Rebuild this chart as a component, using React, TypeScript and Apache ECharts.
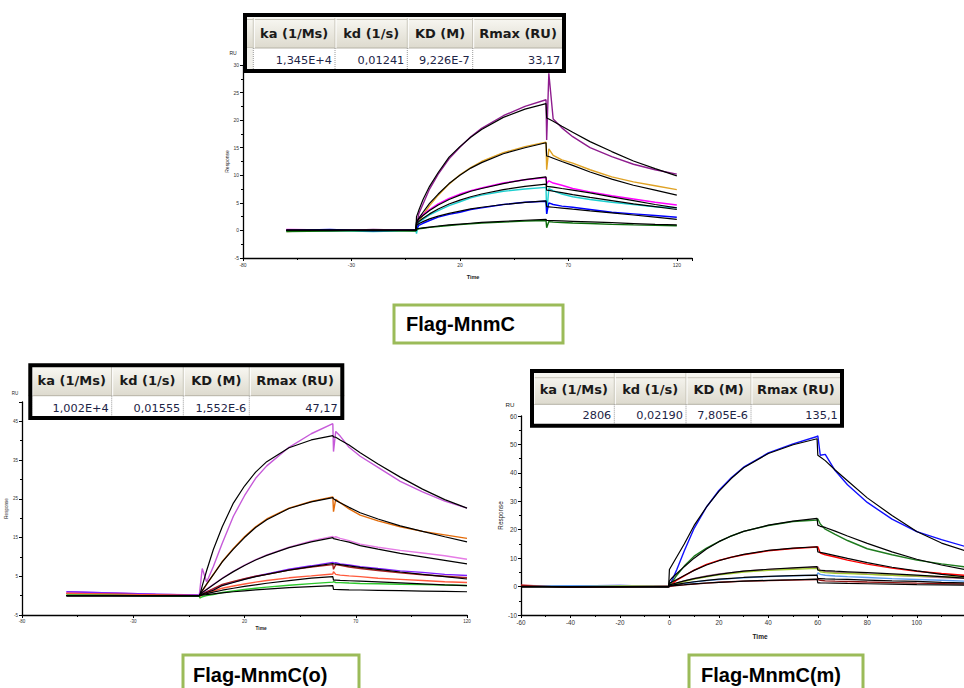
import React, { useEffect, useRef } from "react";
import * as echarts from "echarts";

// shared time grid (s)
const TIME = [-60, -40, -20, -0.3, 0, 1, 3, 6, 10, 15, 20, 25, 30, 40, 50, 59.7, 60, 61, 63, 67, 72, 80, 90, 100, 110, 120];

// ---------- Panel 1 : Flag-MnmC ----------
const P1_DATA_PURPLE = [0.1, -0.1, 0.2, 0.0, 0.5, 3.0, 4.8, 7.5, 10.2, 13.0, 15.1, 17.0, 18.5, 20.8, 22.5, 23.7, 16.4, 28.5, 20.2, 18.6, 17.0, 15.0, 13.4, 12.0, 11.0, 10.2];
const P1_FIT_PURPLE = [0, 0, 0, 0, 2.5, 3.6, 5.6, 8.0, 10.5, 13.3, 15.2, 16.9, 18.3, 20.5, 22.0, 23.0, 20.4, 20.2, 19.8, 18.9, 17.8, 16.1, 14.3, 12.6, 11.2, 9.9];
const P1_DATA_ORANGE = [-0.2, 0.1, -0.1, 0.0, 0.3, 1.5, 2.8, 4.5, 6.4, 8.4, 10.1, 11.4, 12.5, 14.1, 15.2, 16.0, 11.0, 14.8, 13.6, 12.8, 12.2, 11.0, 9.7, 8.8, 8.1, 7.4];
const P1_FIT_ORANGE = [0, 0, 0, 0, 1.5, 2.2, 3.3, 4.9, 6.6, 8.5, 10.0, 11.3, 12.3, 13.9, 15.0, 15.9, 13.5, 13.4, 13.1, 12.5, 11.8, 10.6, 9.3, 8.2, 7.3, 6.4];
const P1_DATA_MAGENTA = [0.2, 0.1, 0.0, 0.1, 0.5, 2.2, 2.9, 3.8, 4.8, 5.8, 6.6, 7.2, 7.7, 8.6, 9.2, 9.6, 8.5, 9.0, 8.6, 8.2, 7.6, 7.0, 6.3, 5.7, 5.1, 4.6];
const P1_FIT_MAGENTA = [0, 0, 0, 0, 1.5, 2.0, 2.7, 3.6, 4.6, 5.6, 6.4, 7.1, 7.6, 8.5, 9.2, 9.7, 8.0, 7.95, 7.85, 7.6, 7.3, 6.8, 6.1, 5.4, 4.7, 4.1];
const P1_DATA_CYAN = [-0.1, 0.0, -0.2, 0.0, -0.6, 1.5, 2.0, 2.8, 3.6, 4.5, 5.2, 5.9, 6.4, 7.1, 7.5, 7.8, 3.0, 7.6, 7.2, 6.6, 6.1, 5.6, 5.1, 4.7, 4.3, 4.1];
const P1_FIT_CYAN = [0, 0, 0, 0, 1.2, 1.6, 2.2, 3.0, 3.9, 4.8, 5.5, 6.1, 6.6, 7.4, 8.0, 8.4, 7.3, 7.25, 7.1, 6.85, 6.5, 6.0, 5.4, 4.8, 4.3, 3.8];
const P1_DATA_BLUE = [0.0, 0.2, -0.1, 0.1, 0.2, 0.9, 1.3, 1.8, 2.4, 2.9, 3.3, 3.8, 4.1, 4.7, 5.1, 5.3, 3.0, 5.0, 4.7, 4.4, 4.2, 3.8, 3.3, 3.0, 2.7, 2.4];
const P1_FIT_BLUE = [0, 0, 0, 0, 0.9, 1.2, 1.6, 2.1, 2.6, 3.1, 3.5, 3.9, 4.2, 4.7, 5.1, 5.35, 4.3, 4.27, 4.2, 4.05, 3.85, 3.55, 3.2, 2.8, 2.4, 2.0];
const P1_DATA_GREEN = [-0.2, -0.1, 0.0, -0.1, 0.1, 0.3, 0.4, 0.55, 0.7, 0.9, 1.05, 1.2, 1.35, 1.5, 1.7, 1.8, 0.5, 1.6, 1.5, 1.45, 1.35, 1.25, 1.1, 1.0, 0.95, 0.85];
const P1_FIT_GREEN = [0, 0, 0, 0, 0.3, 0.35, 0.45, 0.6, 0.8, 1.0, 1.15, 1.3, 1.45, 1.65, 1.85, 2.0, 1.8, 1.8, 1.78, 1.72, 1.65, 1.55, 1.4, 1.25, 1.1, 1.0];

// ---------- Panel 2 : Flag-MnmC(o) ----------
const P2_DATA_ORCHID = [1.0, 0.7, 0.4, 0.2, 0.2, 7.0, 3.5, 7.5, 13.5, 20.5, 25.8, 30.3, 33.5, 38.3, 41.8, 44.4, 37.2, 42.4, 41.2, 38.3, 36.0, 33.1, 29.5, 26.8, 24.4, 22.6];
const P2_FIT_ORCHID = [0, 0, 0, 0, 0.3, 2.5, 6.5, 11.9, 17.8, 23.9, 28.3, 31.9, 34.6, 38.2, 40.2, 41.3, 41.0, 40.9, 40.2, 38.9, 36.9, 34.0, 30.6, 27.5, 24.8, 22.6];
const P2_DATA_ORANGE = [0.6, 0.5, 0.2, 0.0, -0.6, 1.2, 2.9, 5.5, 8.8, 12.2, 15.2, 17.8, 19.8, 22.6, 24.3, 25.5, 21.7, 24.9, 24.0, 22.4, 20.8, 19.3, 17.8, 16.6, 15.7, 14.8];
const P2_FIT_ORANGE = [0, 0, 0, 0, 0.3, 1.3, 3.0, 5.4, 8.7, 12.0, 15.0, 17.6, 19.6, 22.5, 24.2, 25.3, 25.0, 24.6, 24.0, 22.8, 21.4, 19.8, 18.0, 16.6, 15.2, 13.9];
const P2_DATA_VIOLET = [0.9, 0.6, 0.3, 0.1, 0.0, 0.8, 1.7, 2.9, 4.5, 6.3, 7.9, 9.3, 10.5, 12.5, 14.1, 15.3, 15.0, 15.2, 14.8, 14.2, 13.3, 12.5, 11.7, 11.0, 10.3, 9.4];
const P2_FIT_VIOLET = [0, 0, 0, 0, 0.3, 0.8, 1.6, 2.8, 4.4, 6.2, 7.8, 9.2, 10.4, 12.4, 13.9, 15.0, 14.7, 14.6, 14.3, 13.8, 12.9, 12.0, 10.9, 10.0, 9.1, 8.2];
const P2_DATA_PURPLE = [1.0, 0.7, 0.4, 0.1, 0.0, 0.5, 1.0, 1.7, 2.7, 3.5, 4.3, 5.0, 5.6, 6.8, 7.7, 8.6, 8.4, 8.5, 8.2, 7.9, 7.5, 7.0, 6.4, 6.0, 5.5, 5.2];
const P2_DATA_DARKRED = [0.5, 0.4, 0.2, 0.0, 0.0, 0.4, 1.0, 1.8, 2.9, 3.7, 4.4, 5.0, 5.5, 6.6, 7.4, 8.0, 6.8, 8.0, 7.8, 7.4, 7.0, 6.5, 5.9, 5.4, 5.0, 4.6];
const P2_FIT_PURPLE = [0, 0, 0, 0, 0.2, 0.4, 0.8, 1.4, 2.6, 3.4, 4.2, 4.9, 5.5, 6.6, 7.5, 8.3, 8.2, 8.15, 8.0, 7.7, 7.3, 6.8, 6.1, 5.5, 4.9, 4.3];
const P2_DATA_TOMATO = [0.6, 0.4, 0.2, 0.0, -0.2, 0.3, 0.7, 1.2, 1.9, 2.5, 3.0, 3.5, 3.9, 4.6, 5.1, 5.6, 6.2, 5.5, 5.3, 5.1, 4.9, 4.5, 4.2, 3.9, 3.6, 3.4];
const P2_FIT_TOMATO = [0, 0, 0, 0, 0.1, 0.25, 0.5, 0.9, 1.4, 1.9, 2.4, 2.8, 3.2, 3.9, 4.5, 4.9, 4.0, 3.98, 3.93, 3.85, 3.75, 3.55, 3.3, 3.05, 2.8, 2.6];
const P2_DATA_GREEN = [0.2, 0.1, -0.1, -0.2, -0.6, -0.3, 0.0, 0.3, 0.8, 1.2, 1.6, 1.9, 2.2, 2.7, 3.1, 3.5, 3.6, 3.4, 3.35, 3.25, 3.15, 3.05, 2.95, 2.85, 2.75, 2.6];
const P2_FIT_GREEN = [0, 0, 0, 0, 0.0, 0.1, 0.25, 0.45, 0.7, 1.0, 1.25, 1.5, 1.7, 2.05, 2.35, 2.6, 1.6, 1.59, 1.56, 1.5, 1.45, 1.38, 1.28, 1.18, 1.09, 1.0];

// ---------- Panel 3 : Flag-MnmC(m) ----------
const P3_DATA_BLUE = [0.3, 0.2, 0.4, 0.0, 0.0, 2.0, 6.0, 12.5, 20.5, 28.0, 33.8, 38.3, 42.0, 47.0, 50.2, 52.8, 53.0, 46.2, 46.5, 40.8, 35.8, 29.6, 23.7, 19.3, 16.5, 14.0];
const P3_FIT_BLUE = [0, 0, 0, 0, 6.0, 7.5, 10.5, 15.0, 21.5, 28.0, 33.5, 38.0, 41.8, 46.8, 49.9, 52.0, 46.2, 45.6, 44.3, 41.0, 37.2, 31.2, 25.0, 19.4, 15.3, 12.5];
const P3_DATA_GREEN = [0.2, 0.0, 0.3, 0.0, 0.2, 1.5, 4.0, 7.2, 10.7, 13.5, 15.8, 17.8, 19.4, 21.5, 22.9, 23.4, 23.8, 22.0, 20.2, 18.4, 16.2, 13.3, 11.2, 9.3, 8.0, 6.9];
const P3_FIT_GREEN = [0, 0, 0, 0, 2.0, 3.0, 4.6, 7.0, 10.0, 13.2, 15.8, 17.8, 19.4, 21.6, 23.0, 24.0, 21.6, 21.2, 20.8, 19.5, 17.8, 15.2, 12.2, 9.6, 7.6, 5.9];
const P3_DATA_RED = [0.5, -0.2, 0.3, 0.0, 0.1, 0.8, 2.3, 3.8, 5.8, 7.8, 9.2, 10.3, 11.2, 12.6, 13.4, 13.9, 14.0, 11.8, 11.2, 10.4, 9.3, 7.9, 6.5, 5.4, 4.6, 3.9];
const P3_FIT_RED = [0, 0, 0, 0, 1.2, 1.6, 2.5, 3.9, 5.7, 7.6, 9.1, 10.3, 11.3, 12.7, 13.5, 14.0, 12.2, 12.0, 11.7, 10.9, 9.9, 8.4, 6.8, 5.5, 4.3, 3.4];
const P3_DATA_YELLOWGREEN = [0.2, 0.0, 0.3, 0.0, 0.0, 0.4, 1.0, 1.8, 2.6, 3.4, 4.1, 4.6, 5.1, 5.7, 6.1, 6.4, 6.3, 5.2, 4.9, 4.7, 4.6, 4.3, 4.0, 3.7, 3.5, 3.3];
const P3_DATA_MAUVE = [0.4, 0.1, 0.2, 0.0, 0.0, 0.5, 1.2, 2.0, 2.9, 3.7, 4.4, 4.9, 5.4, 6.0, 6.4, 6.8, 6.9, 5.6, 5.3, 5.0, 4.8, 4.4, 4.0, 3.6, 3.2, 2.9];
const P3_FIT_YELLOWGREEN = [0, 0, 0, 0, 0.6, 0.8, 1.3, 2.0, 2.8, 3.6, 4.3, 4.9, 5.4, 6.1, 6.6, 7.0, 5.8, 5.75, 5.6, 5.4, 5.2, 4.9, 4.5, 4.0, 3.5, 2.9];
const P3_DATA_LIGHTBLUE = [0.1, 0.3, 0.0, 0.0, 0.0, 0.3, 0.6, 1.0, 1.6, 2.1, 2.5, 2.8, 3.1, 3.5, 3.8, 4.0, 4.8, 4.3, 4.0, 3.7, 3.5, 3.2, 2.8, 2.5, 2.2, 1.9];
const P3_FIT_LIGHTBLUE = [0, 0, 0, 0, 0.4, 0.5, 0.8, 1.2, 1.7, 2.2, 2.6, 2.9, 3.2, 3.6, 3.85, 4.0, 2.8, 2.77, 2.7, 2.6, 2.5, 2.3, 2.0, 1.8, 1.5, 1.3];
const P3_DATA_DARKRED = [0.4, -0.3, -0.2, 0.0, 0.0, 0.2, 0.4, 0.6, 0.9, 1.2, 1.5, 1.7, 1.9, 2.1, 2.3, 2.5, 2.5, 2.2, 2.0, 1.9, 1.8, 1.6, 1.4, 1.2, 1.05, 0.9];
const P3_FIT_DARKRED = [0, 0, 0, 0, 0.2, 0.3, 0.45, 0.65, 0.95, 1.25, 1.5, 1.7, 1.9, 2.2, 2.4, 2.6, 1.3, 1.28, 1.25, 1.2, 1.1, 1.0, 0.85, 0.7, 0.6, 0.5];

// ---------- tables & titles ----------
const TABLE_HEADERS = ["ka (1/Ms)", "kd (1/s)", "KD (M)", "Rmax (RU)"];
const P1_TABLE_VALUES = ["1,345E+4", "0,01241", "9,226E-7", "33,17"];
const P2_TABLE_VALUES = ["1,002E+4", "0,01555", "1,552E-6", "47,17"];
const P3_TABLE_VALUES = ["2806", "0,02190", "7,805E-6", "135,1"];
const PANEL_TITLES = ["Flag-MnmC", "Flag-MnmC(o)", "Flag-MnmC(m)"];
const X_NAME = "Time";
const Y_NAME = "Response";
const Y_UNIT = "RU";

const PANELS = [
  {
    data: [
      [P1_DATA_PURPLE, "#8E1C8E"],
      [P1_DATA_ORANGE, "#DFA224"],
      [P1_DATA_MAGENTA, "#FF00FF"],
      [P1_DATA_CYAN, "#1CCFCF"],
      [P1_DATA_BLUE, "#0000FF"],
      [P1_DATA_GREEN, "#0B6E0B"],
    ],
    fits: [P1_FIT_PURPLE, P1_FIT_ORANGE, P1_FIT_MAGENTA, P1_FIT_CYAN, P1_FIT_BLUE, P1_FIT_GREEN],
  },
  {
    data: [
      [P2_DATA_ORCHID, "#C65AD9"],
      [P2_DATA_ORANGE, "#E36C0A"],
      [P2_DATA_VIOLET, "#E67CE6"],
      [P2_DATA_PURPLE, "#7F1FFF"],
      [P2_DATA_DARKRED, "#A52020"],
      [P2_DATA_TOMATO, "#FF5A3C"],
      [P2_DATA_GREEN, "#2DC82D"],
    ],
    fits: [P2_FIT_ORCHID, P2_FIT_ORANGE, P2_FIT_VIOLET, P2_FIT_PURPLE, P2_FIT_TOMATO, P2_FIT_GREEN],
  },
  {
    data: [
      [P3_DATA_BLUE, "#1010FF"],
      [P3_DATA_GREEN, "#1E7B1E"],
      [P3_DATA_RED, "#FF0000"],
      [P3_DATA_MAUVE, "#B07090"],
      [P3_DATA_YELLOWGREEN, "#A0C830"],
      [P3_DATA_LIGHTBLUE, "#5A9BF0"],
      [P3_DATA_DARKRED, "#8B1010"],
    ],
    fits: [P3_FIT_BLUE, P3_FIT_GREEN, P3_FIT_RED, P3_FIT_YELLOWGREEN, P3_FIT_LIGHTBLUE, P3_FIT_DARKRED],
  },
];

const FONT = "Liberation Sans, Arial, sans-serif";
const TFONT = "DejaVu Sans, Verdana, sans-serif";

function buildTable(t: any, values: string[]) {
  const els: any[] = [];
  const z = 100;
  els.push({ type: "rect", z, shape: { x: t.x, y: t.y, width: t.w, height: t.h }, style: { fill: "#ffffff" } });
  els.push({
    type: "rect",
    z: z + 1,
    shape: { x: t.x, y: t.hTop, width: t.w, height: t.hBot - t.hTop },
    style: {
      fill: new echarts.graphic.LinearGradient(0, 0, 0, 1, [
        { offset: 0, color: "#F9F8F3" },
        { offset: 1, color: "#DDDACE" },
      ]),
    },
  });
  if (t.strip) {
    els.push({ type: "line", z: z + 2, shape: { x1: t.x, y1: t.strip, x2: t.x + t.w, y2: t.strip }, style: { stroke: "#C9C6BA", lineWidth: 1 } });
  }
  els.push({ type: "line", z: z + 2, shape: { x1: t.x, y1: t.hBot, x2: t.x + t.w, y2: t.hBot }, style: { stroke: "#B5B2A6", lineWidth: 1 } });
  if (t.rowHead) {
    els.push({ type: "rect", z: z + 2, shape: { x: t.rowHead, y: t.hBot, width: t.edges[0] - t.rowHead, height: t.rBot - t.hBot }, style: { fill: "#F2F1EC" } });
  }
  t.edges.forEach((e: number, i: number) => {
    if (i === t.edges.length - 1) return;
    els.push({ type: "line", z: z + 2, shape: { x1: e, y1: t.hTop + 1, x2: e, y2: t.hBot }, style: { stroke: "#C4C1B5", lineWidth: 1 } });
    els.push({ type: "line", z: z + 2, shape: { x1: e + 1, y1: t.hTop + 1, x2: e + 1, y2: t.hBot }, style: { stroke: "#FFFFFF", lineWidth: 1 } });
    els.push({ type: "line", z: z + 2, shape: { x1: e, y1: t.hBot, x2: e, y2: t.rBot }, style: { stroke: "#9A9A9A", lineWidth: 1, lineDash: [1, 1] } });
  });
  for (let i = 0; i < 4; i++) {
    const cx = (t.edges[i] + t.edges[i + 1]) / 2;
    els.push({
      type: "text",
      z: z + 3,
      x: cx,
      y: (t.hTop + t.hBot) / 2 + t.hShift,
      style: { text: TABLE_HEADERS[i], fontSize: 13, fontWeight: "bold", fontFamily: TFONT, fill: "#1A1A1A", align: "center", verticalAlign: "middle", textAlign: "center", textVerticalAlign: "middle" },
    });
    els.push({
      type: "text",
      z: z + 3,
      x: t.edges[i + 1] - 3,
      y: t.vY,
      style: { text: values[i], fontSize: 11.3, fontFamily: TFONT, fill: "#1D2446", align: "right", verticalAlign: "middle", textAlign: "right", textVerticalAlign: "middle" },
    });
  }
  els.push({ type: "rect", z: z + 5, shape: { x: t.x + 2, y: t.y + 2, width: t.w - 4, height: t.h - 4 }, style: { fill: "none", stroke: "#000000", lineWidth: 4 } });
  return els;
}

function titleBox(x: number, y: number, w: number, h: number, tx: number, ty: number, text: string) {
  return [
    { type: "rect", z: 100, shape: { x, y, width: w, height: h }, style: { fill: "#ffffff", stroke: "#9BBB59", lineWidth: 3 } },
    {
      type: "text",
      z: 101,
      x: tx,
      y: ty,
      style: { text, fontSize: 20, fontWeight: "bold", fontFamily: FONT, fill: "#000", align: "left", verticalAlign: "middle", textAlign: "left", textVerticalAlign: "middle" },
    },
  ];
}

function smallText(x: number, y: number, text: string, size: number, bold = false, align = "center") {
  return {
    type: "text",
    z: 90,
    x,
    y,
    style: { text, fontSize: size, fontWeight: bold ? "bold" : "normal", fontFamily: FONT, fill: "#222", align, verticalAlign: "middle", textAlign: align, textVerticalAlign: "middle" },
  };
}

export default function App() {
  const ref = useRef<HTMLDivElement>(null);
  useEffect(() => {
    if (!ref.current) return;
    const chart = echarts.init(ref.current, undefined, { renderer: "svg" });

    const axisCfg = [
      { x: { min: -80, max: 127, interval: 50 }, y: { min: -5, max: 30, interval: 5 }, fs: 5, gapY: 13 },
      { x: { min: -80, max: 120, interval: 50 }, y: { min: -5, max: 50, interval: 10 }, fs: 4.5, gapY: 12 },
      { x: { min: -60, max: 119.1, interval: 20 }, y: { min: -10, max: 60, interval: 10 }, fs: 6.3, gapY: 17 },
    ];

    const grids = [
      { left: 243, top: 65, width: 449, height: 193 },
      { left: 22, top: 402, width: 445, height: 213 },
      { left: 521, top: 416, width: 443, height: 199 },
    ];

    const xAxes = axisCfg.map((c, i) => ({
      type: "value",
      gridIndex: i,
      min: c.x.min,
      max: c.x.max,
      interval: c.x.interval,
      axisLine: { show: true, onZero: false, lineStyle: { color: "#000", width: 1.3 } },
      axisTick: { show: true, length: 3, lineStyle: { color: "#000", width: 1 } },
      minorTick: { show: true, splitNumber: 2, length: 2, lineStyle: { color: "#000" } },
      splitLine: { show: false },
      axisLabel: { fontSize: c.fs, color: "#333", fontFamily: FONT, margin: 4, showMaxLabel: i === 1 },
    }));
    const yAxes = axisCfg.map((c, i) => ({
      type: "value",
      gridIndex: i,
      min: c.y.min,
      max: c.y.max,
      interval: c.y.interval,
      name: Y_NAME,
      nameLocation: "middle",
      nameRotate: 90,
      nameGap: c.gapY,
      nameTextStyle: { fontSize: c.fs, color: "#222", fontFamily: FONT },
      axisLine: { show: true, onZero: false, lineStyle: { color: "#000", width: 1.3 } },
      axisTick: { show: true, length: 3, lineStyle: { color: "#000", width: 1 } },
      minorTick: { show: true, splitNumber: 2, length: 2, lineStyle: { color: "#000" } },
      splitLine: { show: false },
      axisLabel: { fontSize: c.fs, color: "#333", fontFamily: FONT, margin: 4, showMaxLabel: i !== 1, showMinLabel: true },
    }));

    const series: any[] = [];
    PANELS.forEach((p, pi) => {
      p.data.forEach(([arr, color]: any) => {
        series.push({
          type: "line",
          xAxisIndex: pi,
          yAxisIndex: pi,
          data: TIME.map((t, k) => [t, arr[k]]),
          showSymbol: false,
          symbol: "none",
          silent: true,
          lineStyle: { color, width: 1.4 },
          z: 2,
        });
      });
      p.fits.forEach((arr: number[]) => {
        series.push({
          type: "line",
          xAxisIndex: pi,
          yAxisIndex: pi,
          data: TIME.map((t, k) => [t, arr[k]]),
          showSymbol: false,
          symbol: "none",
          silent: true,
          lineStyle: { color: "#000", width: 1.2 },
          z: 3,
        });
      });
    });

    const tables = [
      { x: 243, y: 13, w: 323, h: 60, hTop: 17, hBot: 48, rBot: 70, strip: 19.5, edges: [253.3, 335, 407.3, 472.7, 563.3], rowHead: 246, hShift: 1, vY: 60 },
      { x: 28.3, y: 363.3, w: 316, h: 56.7, hTop: 366, hBot: 395.7, rBot: 417, strip: 0, edges: [31.7, 111.7, 183.3, 249.3, 340.7], rowHead: 0, hShift: 0, vY: 408.3 },
      { x: 530, y: 369, w: 314, h: 58.7, hTop: 372, hBot: 404.3, rBot: 425, strip: 377.7, edges: [533.3, 614.3, 686, 751, 840.7], rowHead: 0, hShift: 1.5, vY: 415.7 },
    ];
    const tableVals = [P1_TABLE_VALUES, P2_TABLE_VALUES, P3_TABLE_VALUES];

    const graphicEls: any[] = [];
    tables.forEach((t, i) => graphicEls.push(...buildTable(t, tableVals[i])));
    graphicEls.push(...titleBox(394, 305, 169, 38, 406, 323.5, PANEL_TITLES[0]));
    graphicEls.push(...titleBox(183, 655, 176, 40, 193, 675, PANEL_TITLES[1]));
    graphicEls.push(...titleBox(689, 655, 174, 40, 701, 675, PANEL_TITLES[2]));
    graphicEls.push(smallText(473, 277, X_NAME, 5.5, true));
    graphicEls.push(smallText(261, 628, X_NAME, 4.8, true));
    graphicEls.push(smallText(760, 636, X_NAME, 6.5, true));
    graphicEls.push(smallText(233, 52.5, Y_UNIT, 5));
    graphicEls.push(smallText(15, 393, Y_UNIT, 4.5));
    graphicEls.push(smallText(510, 404, Y_UNIT, 6.2));

    chart.setOption({
      animation: false,
      backgroundColor: "#ffffff",
      grid: grids,
      xAxis: xAxes,
      yAxis: yAxes,
      series,
      graphic: { elements: graphicEls },
    });
    return () => chart.dispose();
  }, []);

  return <div ref={ref} style={{ position: "absolute", left: 0, top: 0, width: 964, height: 688 }} />;
}
